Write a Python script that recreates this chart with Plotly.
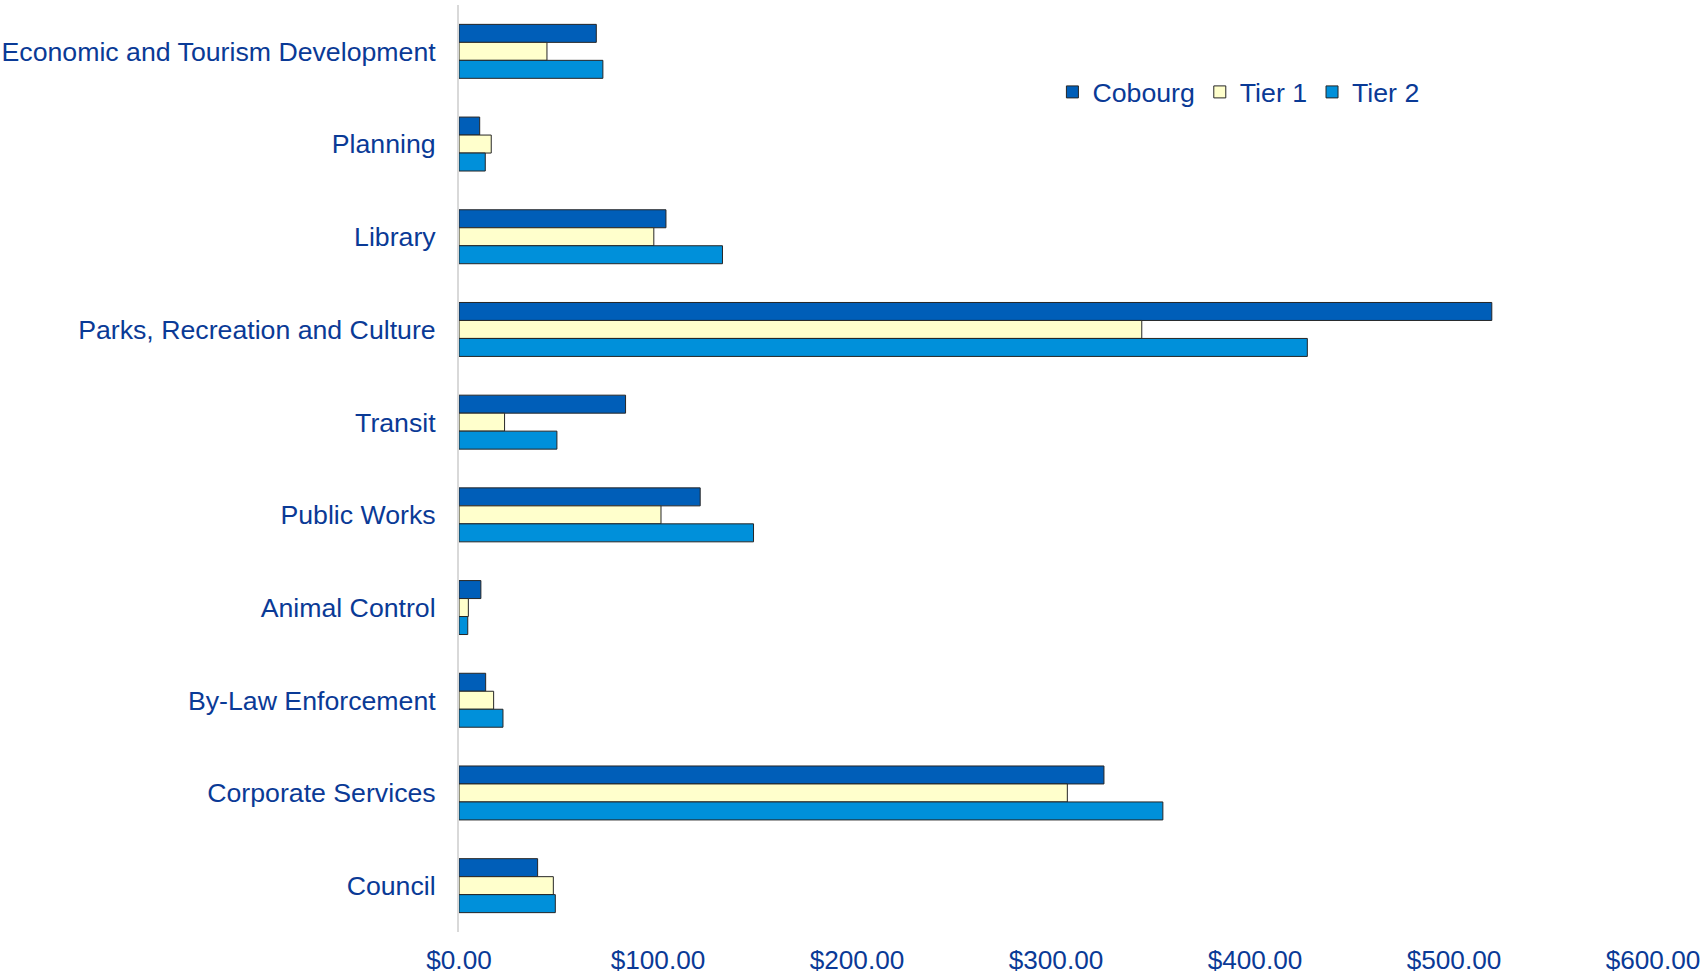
import plotly.graph_objects as go

# Per-capita operating cost by service area (top to bottom as displayed)
categories = [
    "Economic and Tourism Development",
    "Planning",
    "Library",
    "Parks, Recreation and Culture",
    "Transit",
    "Public Works",
    "Animal Control",
    "By-Law Enforcement",
    "Corporate Services",
    "Council",
]
cobourg = [69.0, 10.4, 104.0, 519.0, 83.7, 121.2, 11.0, 13.4, 324.1, 39.5]
tier1 = [44.2, 16.2, 97.9, 343.1, 22.9, 101.5, 4.7, 17.4, 305.7, 47.4]
tier2 = [72.3, 13.2, 132.4, 426.3, 49.2, 148.0, 4.4, 22.1, 353.7, 48.4]

series_names = ["Cobourg", "Tier 1", "Tier 2"]
series_values = [cobourg, tier1, tier2]
series_colors = ["#005EB8", "#FFFFCC", "#0090DA"]

x_ticks = [0, 100, 200, 300, 400, 500, 600]
x_tick_labels = [f"${v:,.2f}" for v in x_ticks]

TEXT = "#0A3A96"
FONT = "Liberation Sans, Arial, sans-serif"

fig = go.Figure()
for name, vals, color in zip(series_names, series_values, series_colors):
    fig.add_trace(go.Bar(
        y=categories,
        x=vals,
        name=name,
        orientation="h",
        marker=dict(color=color, line=dict(color="#262626", width=1)),
    ))

fig.update_layout(
    width=1701,
    height=977,
    margin=dict(l=459, r=48, t=5, b=45),
    paper_bgcolor="white",
    plot_bgcolor="white",
    barmode="group",
    bargap=0.418,
    bargroupgap=0,
    font=dict(family=FONT, size=26.7, color=TEXT),
    legend=dict(
        orientation="h",
        x=0.497,
        y=0.932,
        xanchor="left",
        yanchor="top",
        font=dict(size=26.7, color=TEXT),
        bgcolor="rgba(0,0,0,0)",
        itemwidth=30,
        traceorder="normal",
    ),
    showlegend=True,
)

fig.update_xaxes(
    range=[0, 600],
    tickmode="array",
    tickvals=x_ticks,
    ticktext=x_tick_labels,
    showgrid=False,
    zeroline=False,
    showline=False,
    ticks="",
    ticklabelstandoff=10,
    ticklabeloverflow="allow",
    automargin=False,
    tickfont=dict(size=26.2, color=TEXT),
)

fig.update_yaxes(
    categoryorder="array",
    categoryarray=categories,
    autorange="reversed",
    showgrid=False,
    zeroline=False,
    showline=True,
    linecolor="#D9D9D9",
    linewidth=2,
    ticks="",
    ticklabelstandoff=16,
    ticklabeloverflow="allow",
    automargin=False,
    tickfont=dict(size=26.7, color=TEXT),
)

fig.write_html("out.html")
